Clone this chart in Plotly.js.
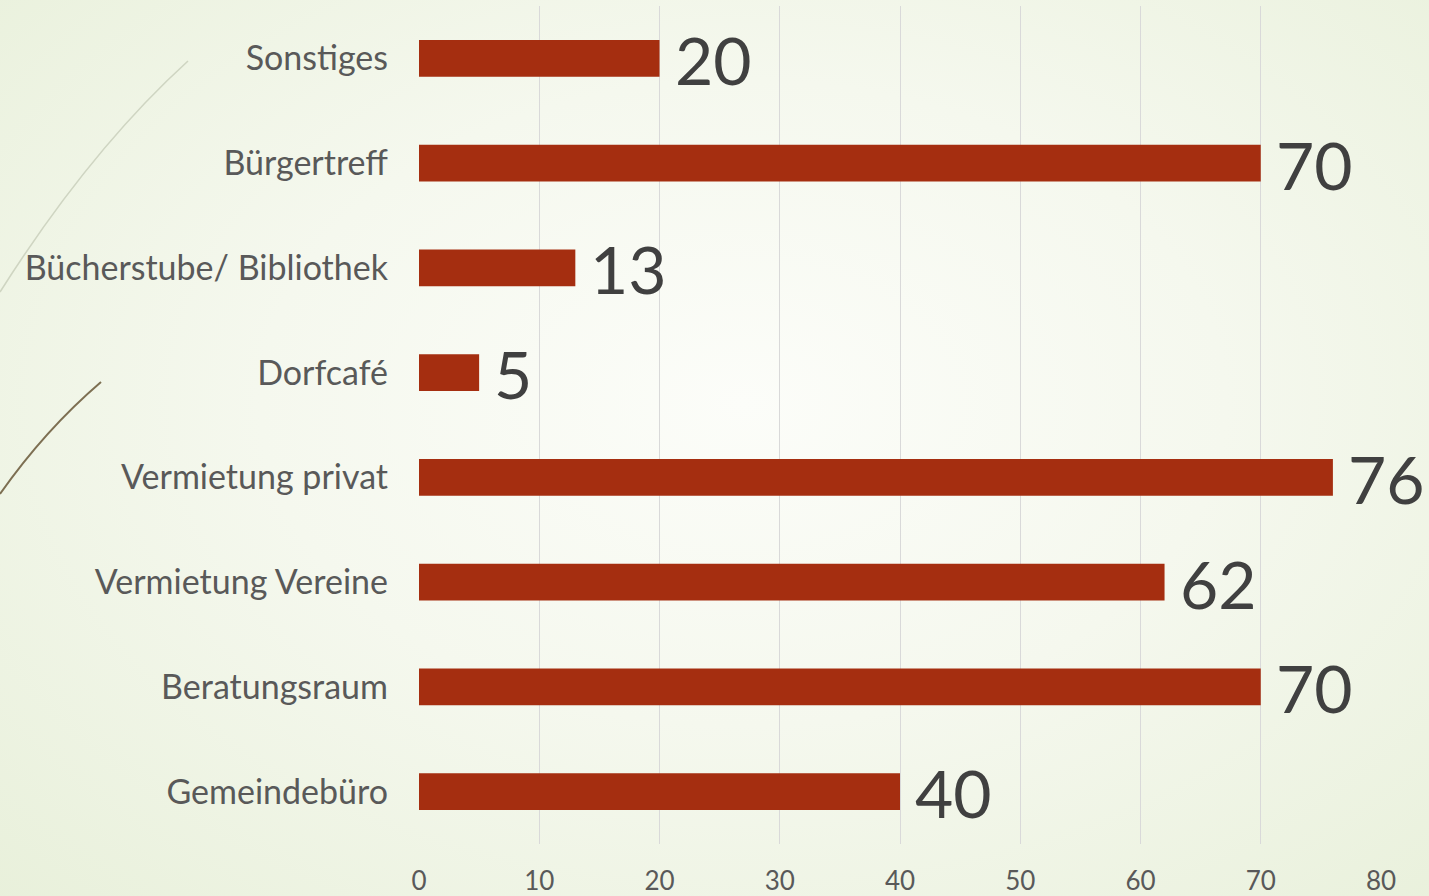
<!DOCTYPE html>
<html>
<head>
<meta charset="utf-8">
<script src="https://cdn.plot.ly/plotly-3.0.1.min.js"></script>
<style>
  html, body { margin:0; padding:0; width:1429px; height:896px; overflow:hidden; }
  body { background: radial-gradient(ellipse 75% 80% at 52% 45%, #fcfdf9 0%, #f5f8ee 45%, #e8f0da 100%); }
  #deco { position:absolute; left:0; top:0; width:1429px; height:896px; pointer-events:none; }
  #chart { position:absolute; left:0; top:0; width:1429px; height:896px; }
</style>
</head>
<body>
<svg id="deco" width="1429" height="896">
  <path d="M188,61 Q90,150 0,292" stroke="#cfd5c2" stroke-width="1.6" fill="none"/>
  <path d="M101,382 Q45,430 0,494" stroke="#7d6f52" stroke-width="2" fill="none"/>
</svg>
<div id="chart"></div>
<script>
const categories = ["Sonstiges", "Bürgertreff", "Bücherstube/ Bibliothek", "Dorfcafé", "Vermietung privat", "Vermietung Vereine", "Beratungsraum", "Gemeindebüro"];
const values = [20, 70, 13, 5, 76, 62, 70, 40];
const xTicks = [0, 10, 20, 30, 40, 50, 60, 70, 80];

const FONT = "Lato, 'Open Sans', sans-serif";

const trace = {
  type: "bar",
  orientation: "h",
  x: values,
  y: categories,
  marker: { color: "#a52e10" },
  hoverinfo: "skip"
};

const annotations = values.map((v, i) => ({
  x: v,
  y: categories[i],
  xref: "x",
  yref: "y",
  text: String(v),
  showarrow: false,
  xanchor: "left",
  yanchor: "middle",
  xshift: 13,
  yshift: -1,
  font: { family: FONT, size: 66, color: "#404040" }
}));

const layout = {
  width: 1429,
  height: 896,
  margin: { l: 418.5, r: 48, t: 6, b: 52 },
  paper_bgcolor: "rgba(0,0,0,0)",
  plot_bgcolor: "rgba(0,0,0,0)",
  showlegend: false,
  bargap: 0.65,
  annotations: annotations,
  xaxis: {
    range: [0, 80],
    tickvals: xTicks,
    ticktext: xTicks.map(String),
    showgrid: true,
    gridcolor: "#d9d9d9",
    gridwidth: 1,
    zeroline: false,
    showline: false,
    ticks: "",
    ticklabelstandoff: 19,
    tickfont: { family: FONT, size: 26, color: "#595959" },
    fixedrange: true
  },
  yaxis: {
    autorange: "reversed",
    showgrid: false,
    zeroline: false,
    showline: false,
    ticks: "",
    ticklabelstandoff: 30,
    tickfont: { family: FONT, size: 34, color: "#595959" },
    fixedrange: true
  }
};

Plotly.newPlot("chart", [trace], layout, { displayModeBar: false, staticPlot: true });
</script>
</body>
</html>
